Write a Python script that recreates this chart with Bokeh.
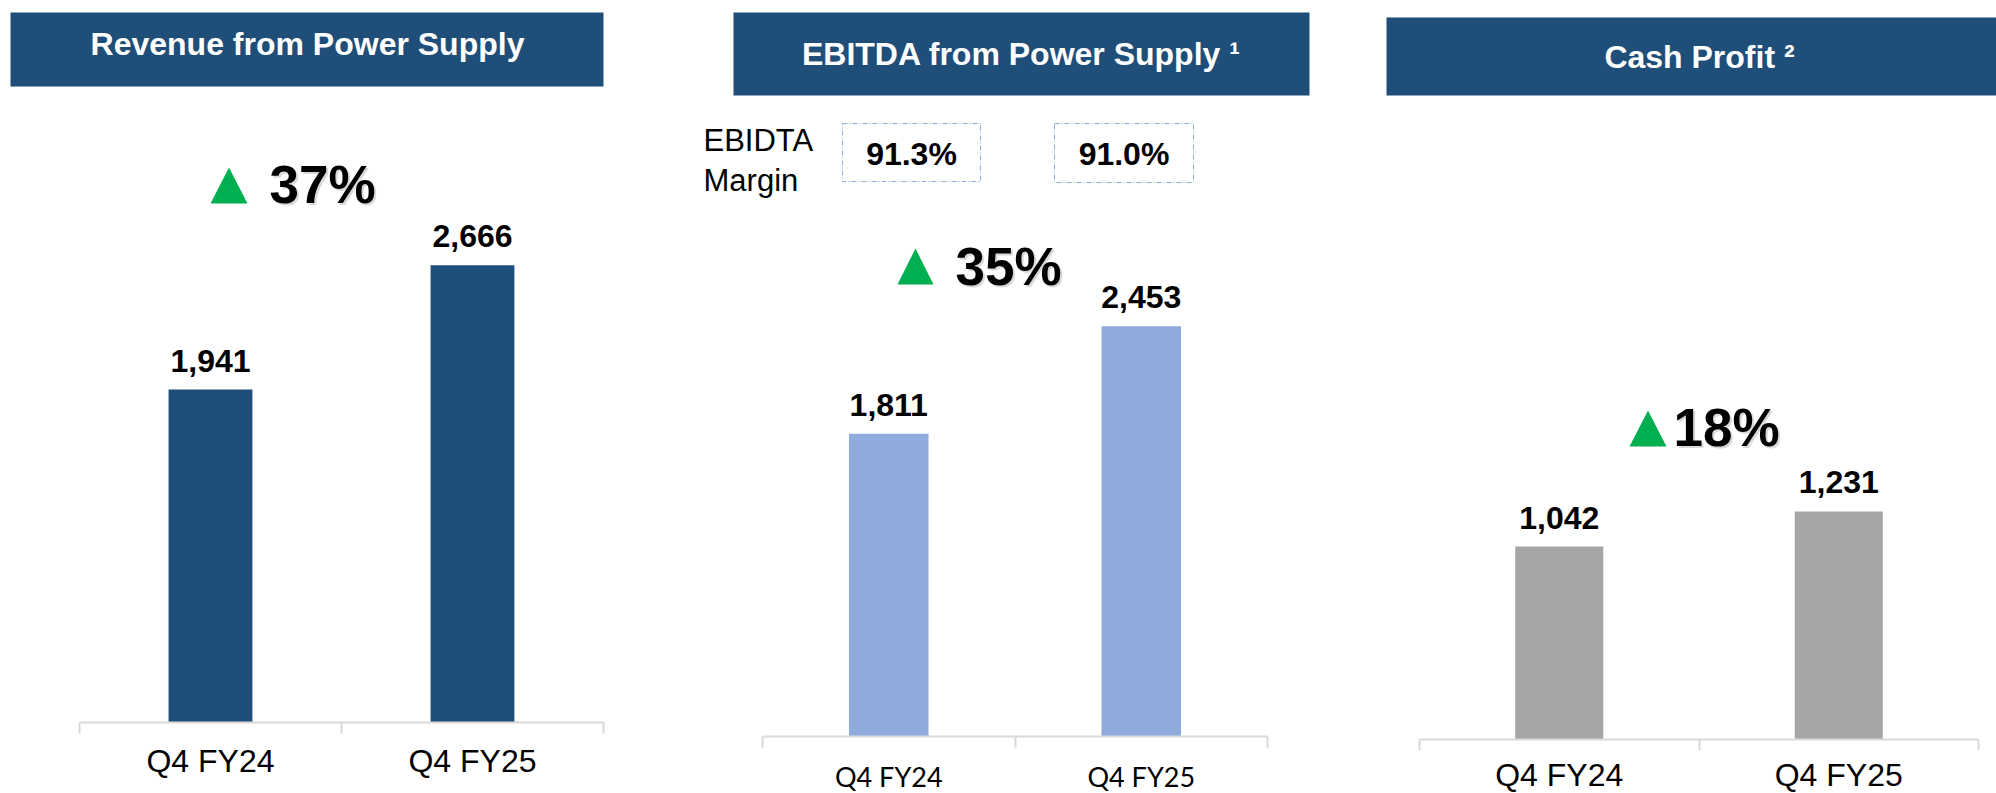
from bokeh.plotting import figure
from bokeh.models import Range1d, LinearAxis, FixedTicker
from bokeh.core.properties import value
from bokeh.embed import file_html
from bokeh.resources import INLINE

# ---------------- data ----------------
categories = ["Q4 FY24", "Q4 FY25"]
revenue = [1941, 2666]
ebitda = [1811, 2453]
cash_profit = [1042, 1231]
ebitda_margin = ["91.3%", "91.0%"]
growth = ["37%", "35%", "18%"]
titles = ["Revenue from Power Supply", "EBITDA from Power Supply \u00b9", "Cash Profit \u00b2"]
margin_label = ["EBIDTA", "Margin"]

# ---------------- layout (page pixels) ----------------
W, H = 1996, 793
OX, OY = 0, 0
FONT = "Liberation Sans"
HEADER = "#1F4E79"
GREEN = "#00B050"
AXIS = "#D9D9D9"

panels = [
    dict(vals=revenue, color="#1F4E79", axis_left=79, cat_w=262, axis_y=722, scale=0.1715,
         bar_w=0.32, tick_font="Liberation Sans", tick_size="32px", standoff=9,
         header=(10, 603, 12, 86), title_x=307, title_y=43,
         tri=(210, 247, 167, 203), gx=269, gy=184),
    dict(vals=ebitda, color="#8FAADC", axis_left=762, cat_w=252.5, axis_y=736, scale=0.1672,
         bar_w=0.315, tick_font="Lato", tick_size="27px", standoff=12,
         header=(733, 1309, 12, 95), title_x=1021, title_y=53,
         tri=(897, 933, 248, 284), gx=955, gy=266),
    dict(vals=cash_profit, color="#A6A6A6", axis_left=1419, cat_w=279.5, axis_y=739, scale=0.18522,
         bar_w=0.315, tick_font="Liberation Sans", tick_size="32px", standoff=6,
         header=(1386, 2000, 17, 95), title_x=1699, title_y=56,
         tri=(1629, 1666, 410, 446), gx=1673, gy=427),
]

p = figure(width=W, height=H, x_range=Range1d(OX, OX + W), y_range=Range1d(OY + H, OY),
           output_backend="svg", toolbar_location=None, min_border=0,
           x_axis_location=None, y_axis_location=None)
p.outline_line_color = None
p.xgrid.visible = False
p.ygrid.visible = False
p.background_fill_color = "white"
p.border_fill_color = "white"

xs = [i + 0.5 for i in range(len(categories))]

for i, pn in enumerate(panels):
    xn, yn = f"x{i}", f"y{i}"
    L, cw, A, s = pn["axis_left"], pn["cat_w"], pn["axis_y"], pn["scale"]
    p.extra_x_ranges[xn] = Range1d((OX - L) / cw, (OX + W - L) / cw)
    p.extra_y_ranges[yn] = Range1d(-(OY + H - A) / s, (A - OY) / s)

    # header banner + title
    l, r, t, b = pn["header"]
    p.quad(left=[l], right=[r], top=[t], bottom=[b], fill_color=HEADER, line_color=None)
    p.text(x=[pn["title_x"]], y=[pn["title_y"]], text=[titles[i]], text_align="center",
           text_baseline="middle", text_color="white", text_font=value(FONT),
           text_font_style="bold", text_font_size="32px")

    # bars
    p.vbar(x=xs, top=pn["vals"], bottom=0, width=pn["bar_w"], fill_color=pn["color"],
           line_color=None, x_range_name=xn, y_range_name=yn)
    p.text(x=xs, y=pn["vals"], text=[f"{v:,}" for v in pn["vals"]], text_align="center",
           text_baseline="middle", y_offset=-29, text_color="black",
           text_font=value(FONT), text_font_style="bold", text_font_size="32px",
           x_range_name=xn, y_range_name=yn)

    # category axis
    ax = LinearAxis(x_range_name=xn, y_range_name=yn, fixed_location=0,
                    bounds=(0, len(categories)),
                    ticker=FixedTicker(ticks=xs, minor_ticks=list(range(len(categories) + 1))),
                    major_label_overrides={x: c for x, c in zip(xs, categories)})
    ax.axis_line_color = AXIS
    ax.axis_line_width = 2
    ax.major_tick_line_color = None
    ax.major_tick_out = 0
    ax.major_tick_in = 0
    ax.minor_tick_line_color = AXIS
    ax.minor_tick_line_width = 2
    ax.minor_tick_out = 11
    ax.minor_tick_in = 0
    ax.major_label_standoff = pn["standoff"]
    ax.major_label_text_font = pn["tick_font"]
    ax.major_label_text_font_size = pn["tick_size"]
    ax.major_label_text_color = "black"
    p.add_layout(ax, "below")

    # growth marker
    tl, tr, tt, tb = pn["tri"]
    p.patches(xs=[[tl, (tl + tr) / 2, tr]], ys=[[tb, tt, tb]], fill_color=GREEN, line_color=None)
    p.text(x=[pn["gx"] + 2], y=[pn["gy"] + 2], text=[growth[i]], text_align="left",
           text_baseline="middle", text_color="#BFBFBF", text_alpha=0.6,
           text_font=value(FONT), text_font_style="bold", text_font_size="53px")
    p.text(x=[pn["gx"]], y=[pn["gy"]], text=[growth[i]], text_align="left",
           text_baseline="middle", text_color="black",
           text_font=value(FONT), text_font_style="bold", text_font_size="53px")

# EBITDA margin boxes
p.text(x=[703, 703], y=[140, 180], text=margin_label, text_align="left",
       text_baseline="middle", text_color="black", text_font=value(FONT),
       text_font_size="31px")
p.quad(left=[842, 1054], right=[980, 1193], top=[123, 123], bottom=[181, 182],
       fill_color=None, line_color="#8FAADC", line_width=1, line_dash="5 2 1 2")
p.text(x=[911, 1123.5], y=[153, 153], text=ebitda_margin, text_align="center",
       text_baseline="middle", text_color="black", text_font=value(FONT),
       text_font_style="bold", text_font_size="32px")

open("out.html", "w").write(file_html(p, INLINE))
